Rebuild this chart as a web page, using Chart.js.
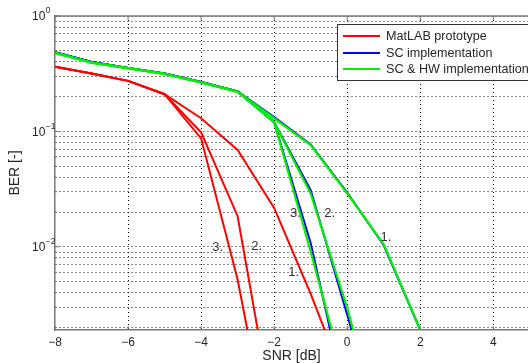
<!DOCTYPE html>
<html>
<head>
<meta charset="utf-8">
<script src="https://cdn.jsdelivr.net/npm/chart.js@4/dist/chart.umd.min.js"></script>
<style>
  html, body { margin: 0; padding: 0; background: #fff; overflow: hidden; }
  canvas { display: block; }
</style>
</head>
<body>
<canvas id="berChart" width="528" height="363"></canvas>
<script>
// SNR points (dB) of the simulated curves
const snrRed = [-8, -7, -6, -5, -4, -3, -2, -1, 0];
const snrSc = [-8, -7, -6, -5, -4, -3, -2, -1, 0, 1, 2];

// MatLAB prototype, curves 1..3
const red1 = [0.364, 0.317, 0.274, 0.21, 0.13, 0.069, 0.0217, 0.0039, 0.0006];
const red2 = [0.364, 0.317, 0.274, 0.21, 0.098, 0.0184, 0.0003, null, null];
const red3 = [0.364, 0.317, 0.274, 0.21, 0.087, 0.0052, 0.00012, null, null];

// SC implementation, curves 1..3
const blue1 = [0.485, 0.4, 0.355, 0.317, 0.268, 0.222, 0.133, 0.077, 0.0295, 0.0103, 0.0019];
const blue2 = [0.485, 0.4, 0.355, 0.317, 0.268, 0.222, 0.12, 0.031, 0.00258, 0.0002, null];
const blue3 = [0.485, 0.4, 0.355, 0.317, 0.268, 0.222, 0.12, 0.0108, 0.00042, null, null];

// SC & HW implementation, curves 1..3
const green1 = [0.48, 0.394, 0.353, 0.315, 0.266, 0.221, 0.13, 0.076, 0.029, 0.0105, 0.0019];
const green2 = [0.48, 0.394, 0.353, 0.315, 0.266, 0.221, 0.12, 0.0289, 0.00295, 0.0002, null];
const green3 = [0.48, 0.394, 0.353, 0.315, 0.266, 0.221, 0.12, 0.0091, 0.0006, null, null];

const legendNames = ['MatLAB prototype', 'SC implementation', 'SC & HW implementation'];
const xTicks = [-8, -6, -4, -2, 0, 2, 4];
const yMin = 0.0019;

// curve numbers written next to the curves (data coords)
const curveLabels = [
  { text: '3.', x: -3.6, y: 0.0098 },
  { text: '2.', x: -2.53, y: 0.01 },
  { text: '1.', x: -1.52, y: 0.006 },
  { text: '3.', x: -1.47, y: 0.0196 },
  { text: '2.', x: -0.53, y: 0.0194 },
  { text: '1.', x: 1.01, y: 0.0121 },
];

const RED = '#ff0000', BLUE = '#0000ff', GREEN = '#00ee00';
const FONT = '"Liberation Sans", Arial, sans-serif';
const TEXT = '#262626';
const AXIS = '#777';
const GRID = '#111';

let makeSet = function (label, color, xs, ys, width, order) {
  return {
    label: label,
    data: xs.map((x, i) => ({ x: x, y: ys[i] })),
    borderColor: color,
    backgroundColor: color,
    borderWidth: width,
    pointRadius: 0,
    tension: 0,
    fill: false,
    order: order,
  };
};

const datasets = [
  makeSet(legendNames[0], RED, snrRed, red1, 2, 2),
  makeSet(legendNames[0], RED, snrRed, red2, 2, 2),
  makeSet(legendNames[0], RED, snrRed, red3, 2, 2),
  makeSet(legendNames[1], BLUE, snrSc, blue1, 2, 1),
  makeSet(legendNames[1], BLUE, snrSc, blue2, 2, 1),
  makeSet(legendNames[1], BLUE, snrSc, blue3, 2, 1),
  makeSet(legendNames[2], GREEN, snrSc, green1, 2.2, 0),
  makeSet(legendNames[2], GREEN, snrSc, green2, 2.2, 0),
  makeSet(legendNames[2], GREEN, snrSc, green3, 2.2, 0),
];

let isDecade = v => Math.abs(Math.log10(v) - Math.round(Math.log10(v))) < 1e-9;

// box, inward ticks, y labels with exponents, curve numbers and legend
const extrasPlugin = {
  id: 'extras',
  afterDraw(chart) {
    const ctx = chart.ctx;
    const area = chart.chartArea;
    const xs = chart.scales.x;
    const ys = chart.scales.y;
    ctx.save();

    // top edge of the box and inward tick marks
    ctx.strokeStyle = AXIS;
    ctx.lineWidth = 1.5;
    ctx.beginPath();
    ctx.moveTo(area.left, area.top);
    ctx.lineTo(area.right + 2, area.top);
    ctx.stroke();
    ctx.lineWidth = 1;
    ctx.beginPath();
    xTicks.forEach(v => {
      const px = xs.getPixelForValue(v);
      ctx.moveTo(px, area.bottom); ctx.lineTo(px, area.bottom - 4);
      ctx.moveTo(px, area.top); ctx.lineTo(px, area.top + 4);
    });
    ys.ticks.forEach(t => {
      const py = ys.getPixelForValue(t.value);
      ctx.moveTo(area.left, py); ctx.lineTo(area.left + (isDecade(t.value) ? 4 : 2), py);
    });
    ctx.stroke();

    // y labels as 10 with a raised exponent
    ctx.fillStyle = TEXT;
    ctx.textBaseline = 'middle';
    ctx.textAlign = 'left';
    ys.ticks.filter(t => isDecade(t.value)).forEach(t => {
      const py = ys.getPixelForValue(t.value);
      const e = Math.round(Math.log10(t.value));
      ctx.font = '12px ' + FONT;
      ctx.fillText('10', 32, py + 1);
      const w = ctx.measureText('10').width;
      ctx.font = '8.5px ' + FONT;
      ctx.fillText(e < 0 ? '\u2212' + Math.abs(e) : String(e), 32 + w + 0.5, py - 5);
    });

    // curve numbers
    ctx.font = '13px ' + FONT;
    ctx.fillStyle = '#333';
    curveLabels.forEach(l => {
      ctx.fillText(l.text, xs.getPixelForValue(l.x) - 3.5, ys.getPixelForValue(l.y));
    });

    // legend box
    const lx = 337, ly = 24;
    ctx.fillStyle = '#fff';
    ctx.fillRect(lx, ly, 220, 56);
    ctx.strokeStyle = '#333';
    ctx.lineWidth = 1;
    ctx.strokeRect(lx + 0.5, ly + 0.5, 220, 56);
    const colors = [RED, BLUE, GREEN];
    const rows = [36, 53, 69];
    ctx.font = '12.6px ' + FONT;
    legendNames.forEach((name, i) => {
      ctx.strokeStyle = colors[i];
      ctx.lineWidth = 2.2;
      ctx.beginPath();
      ctx.moveTo(343, rows[i]);
      ctx.lineTo(380, rows[i]);
      ctx.stroke();
      ctx.fillStyle = TEXT;
      ctx.fillText(name, 386, rows[i] + 0.5);
    });
    ctx.restore();
  },
};

const config = {
  type: 'line',
  data: { datasets },
  options: {
    responsive: false,
    animation: false,
    layout: { padding: { top: 16, right: 0, left: 0, bottom: 0 } },
    plugins: { legend: { display: false }, tooltip: { enabled: false } },
    scales: {
      x: {
        type: 'linear',
        min: -8,
        max: 4.95,
        afterBuildTicks: s => { s.ticks = xTicks.map(v => ({ value: v })); },
        afterFit: s => { s.height = 33; },
        grid: {
          color: c => (c.tick && c.tick.value === -8 ? 'rgba(0,0,0,0)' : GRID),
          lineWidth: 1,
          drawTicks: false,
        },
        border: { display: true, color: AXIS, width: 1.5, dash: [1, 3] },
        ticks: {
          color: TEXT,
          font: { family: FONT, size: 12 },
          padding: 5,
          maxRotation: 0,
          callback: v => (v < 0 ? '\u2212' + Math.abs(v) : String(v)),
        },
        title: {
          display: true,
          text: 'SNR [dB]',
          color: TEXT,
          font: { family: FONT, size: 14, lineHeight: 1 },
          padding: { top: 0, bottom: 0 },
        },
      },
      y: {
        type: 'logarithmic',
        min: yMin,
        max: 1,
        afterBuildTicks: s => {
          const vals = [];
          for (let e = -3; e <= -1; e++) {
            for (let m = 1; m <= 9; m++) {
              const v = m * Math.pow(10, e);
              if (v >= yMin) vals.push(v);
            }
          }
          vals.push(1);
          s.ticks = vals.map(v => ({ value: v, major: isDecade(v) }));
        },
        afterFit: s => { s.width = 55; },
        grid: { color: GRID, lineWidth: 1, drawTicks: false },
        border: { display: true, color: AXIS, width: 1.5, dash: [1, 3] },
        ticks: { display: false },
        title: {
          display: true,
          text: 'BER [-]',
          color: TEXT,
          font: { family: FONT, size: 14, lineHeight: 1 },
          padding: { top: 8, bottom: 0 },
        },
      },
    },
  },
  plugins: [extrasPlugin],
};

let berChart = new Chart(document.getElementById('berChart'), config);
</script>
</body>
</html>
